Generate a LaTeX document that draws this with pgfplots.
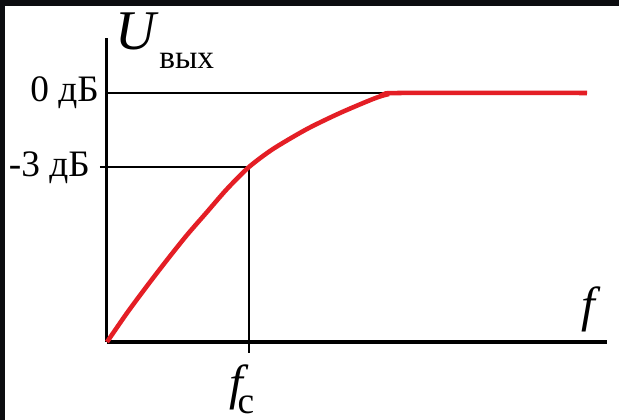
\documentclass[border=0pt]{standalone}
\usepackage{fontspec}
\setmainfont{Liberation Serif}
\newfontfamily\italicserif{Liberation Serif Italic}
\usepackage{pgfplots}
\pgfplotsset{compat=1.18}
\definecolor{curvered}{RGB}{228,30,37}
\definecolor{framedark}{RGB}{12,13,16}
\begin{document}
\begin{tikzpicture}
% dark frame with the white sheet on top (units: 0.75pt)
\begin{scope}[x=0.75pt,y=0.75pt]
  \fill[framedark] (0,0) rectangle (619,420);
  \fill[white] (5,0) rectangle (619,414);
\end{scope}
\begin{axis}[
  at={(80.25pt,58.5pt)}, anchor=south west,
  scale only axis, width=375pt, height=228pt,
  xmin=0, xmax=500, ymin=0, ymax=304,
  axis lines=left, axis line style={-},
  x axis line style={line width=3pt},
  y axis line style={line width=2.25pt},
  xtick=\empty, ytick=\empty,
  clip=false,
]
% guide lines for the 0 dB level and the cut-off point
\addplot[black, line width=1.1pt] coordinates {(0,249) (293,249)};
\addplot[black, line width=1.1pt] coordinates {(-7,175) (142,175) (142,-11)};
% frequency response
\addplot[curvered, line width=3.4pt, smooth, tension=0.45] coordinates {
  (0,0) (20,29) (40,56) (60,82) (80,107) (100,130) (120,153) (142,175)
  (166,193) (200,213) (233,229) (266,243) (280,247.5) (293,249)
  (480,249)
};
% level labels
\node[anchor=east, inner sep=0pt, font=\fontsize{28}{28}\selectfont] at (axis cs:-8,249) {0 дБ};
\node[anchor=east, inner sep=0pt, font=\fontsize{28}{28}\selectfont] at (axis cs:-17,174) {-3 дБ};
% axis names
\node[anchor=base west, inner sep=0pt, font=\fontsize{42}{42}\italicserif] at (axis cs:8,292) {U};
\node[anchor=base west, inner sep=0pt, font=\fontsize{25}{25}\selectfont] at (axis cs:52,273) {вых};
\node[anchor=center, inner sep=0pt, font=\fontsize{37}{37}\italicserif] at (axis cs:481.5,32.5) {f};
\node[anchor=center, inner sep=0pt, font=\fontsize{37}{37}\italicserif] at (axis cs:129,-45.5) {f};
\node[anchor=center, inner sep=0pt, font=\fontsize{28}{28}\selectfont] at (axis cs:139,-63) {c};
\end{axis}
\end{tikzpicture}
\end{document}
